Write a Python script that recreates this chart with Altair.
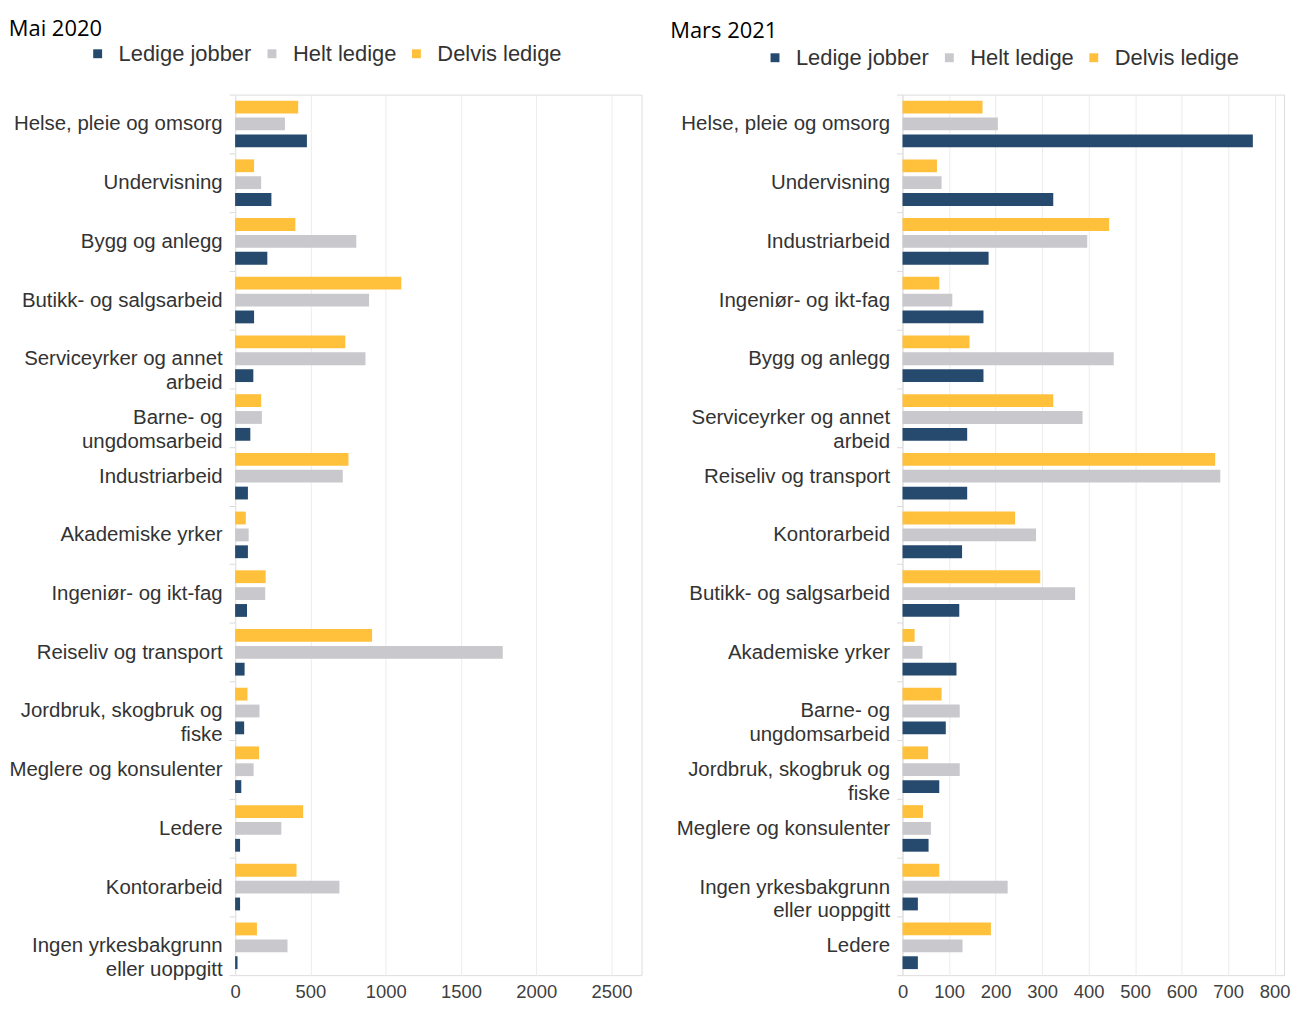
import altair as alt
import pandas as pd

series = ["Ledige jobber", "Helt ledige", "Delvis ledige"]
colors = ["#254a6d", "#c9c8cc", "#ffc03c"]
stack_order = ["Delvis ledige", "Helt ledige", "Ledige jobber"]

cat_2020 = ["Helse, pleie og omsorg", "Undervisning", "Bygg og anlegg",
            "Butikk- og salgsarbeid", "Serviceyrker og annet|arbeid",
            "Barne- og|ungdomsarbeid", "Industriarbeid", "Akademiske yrker",
            "Ingeniør- og ikt-fag", "Reiseliv og transport",
            "Jordbruk, skogbruk og|fiske", "Meglere og konsulenter", "Ledere",
            "Kontorarbeid", "Ingen yrkesbakgrunn|eller uoppgitt"]
ledige_2020 = [477, 241, 214, 126, 121, 101, 85, 85, 79, 63, 60, 41, 33, 33, 16]
helt_2020 = [331, 173, 805, 890, 866, 178, 715, 90, 200, 1778, 162, 123, 307, 693, 348]
delvis_2020 = [419, 126, 400, 1104, 732, 173, 753, 71, 203, 910, 82, 159, 452, 408, 145]

cat_2021 = ["Helse, pleie og omsorg", "Undervisning", "Industriarbeid",
            "Ingeniør- og ikt-fag", "Bygg og anlegg",
            "Serviceyrker og annet|arbeid", "Reiseliv og transport",
            "Kontorarbeid", "Butikk- og salgsarbeid", "Akademiske yrker",
            "Barne- og|ungdomsarbeid", "Jordbruk, skogbruk og|fiske",
            "Meglere og konsulenter", "Ingen yrkesbakgrunn|eller uoppgitt", "Ledere"]
ledige_2021 = [753, 324, 185, 174, 174, 139, 139, 128, 122, 116, 93, 79, 56, 33, 33]
helt_2021 = [205, 84, 397, 107, 454, 387, 683, 287, 371, 43, 123, 123, 61, 226, 129]
delvis_2021 = [172, 74, 444, 79, 144, 324, 672, 242, 296, 26, 84, 55, 44, 79, 190]

ticks_2020 = [0, 500, 1000, 1500, 2000, 2500]
ticks_2021 = [0, 100, 200, 300, 400, 500, 600, 700, 800]

LABEL_FONT = "Liberation Sans"


def panel(title, cats, led, helt, delv, xmax, ticks, width, height,
          legend_x, legend_y, title_offset, title_dx):
    rows = []
    for c, a, b, d in zip(cats, led, helt, delv):
        rows.append({"kat": c, "serie": series[0], "verdi": a})
        rows.append({"kat": c, "serie": series[1], "verdi": b})
        rows.append({"kat": c, "serie": series[2], "verdi": d})
    df = pd.DataFrame(rows)
    return alt.Chart(
        df,
        title=alt.Title(title, anchor="start", frame="bounds", fontSize=22,
                        font="Open Sans", fontWeight="normal", color="#000000",
                        offset=title_offset, dx=title_dx),
    ).mark_bar().encode(
        x=alt.X("verdi:Q",
                scale=alt.Scale(domain=[0, xmax], nice=False, zero=True),
                axis=alt.Axis(values=ticks, format="d", title=None, grid=True,
                              gridColor="#ececec", domain=False, ticks=False,
                              labelFontSize=18.5, labelFont=LABEL_FONT,
                              labelColor="#404040", labelPadding=7,
                              labelFlush=False)),
        y=alt.Y("kat:N", sort=cats,
                scale=alt.Scale(paddingInner=0, paddingOuter=0),
                axis=alt.Axis(title=None, labelExpr="split(datum.label, '|')",
                              tickBand="extent", ticks=True, tickSize=6,
                              tickColor="#d9d9d9", domain=True, domainColor="#e3e3e3",
                              labelFontSize=20.5, labelFont=LABEL_FONT,
                              labelColor="#333333", labelPadding=7,
                              labelLineHeight=24, labelLimit=400)),
        yOffset=alt.YOffset("serie:N", sort=stack_order,
                            scale=alt.Scale(paddingInner=0.24, paddingOuter=0.36)),
        color=alt.Color("serie:N",
                        scale=alt.Scale(domain=series, range=colors),
                        legend=alt.Legend(orient="none", legendX=legend_x, legendY=legend_y,
                                          direction="horizontal", columns=3, title=None,
                                          symbolType="square", symbolSize=80,
                                          symbolStrokeWidth=0, labelFontSize=22,
                                          labelFont=LABEL_FONT, labelColor="#333333",
                                          labelOffset=10, columnPadding=9, padding=0)),
    ).properties(width=width, height=height)


left = panel("Mai 2020", cat_2020, ledige_2020, helt_2020, delvis_2020,
             2700, ticks_2020, 408, 884, -149, -52, 2, 0)
right = panel("Mars 2021", cat_2021, ledige_2021, helt_2021, delvis_2021,
              820, ticks_2021, 383, 884, -139, -48, 4, -6)

chart = alt.hconcat(left, right, spacing=27).resolve_scale(
    color="independent", y="independent", x="independent"
).configure_view(stroke=None).configure(
    background="white", padding={"left": 0, "top": 7, "right": 0, "bottom": 0})

chart.save("out.html", embed_options={"renderer": "svg", "actions": False})
